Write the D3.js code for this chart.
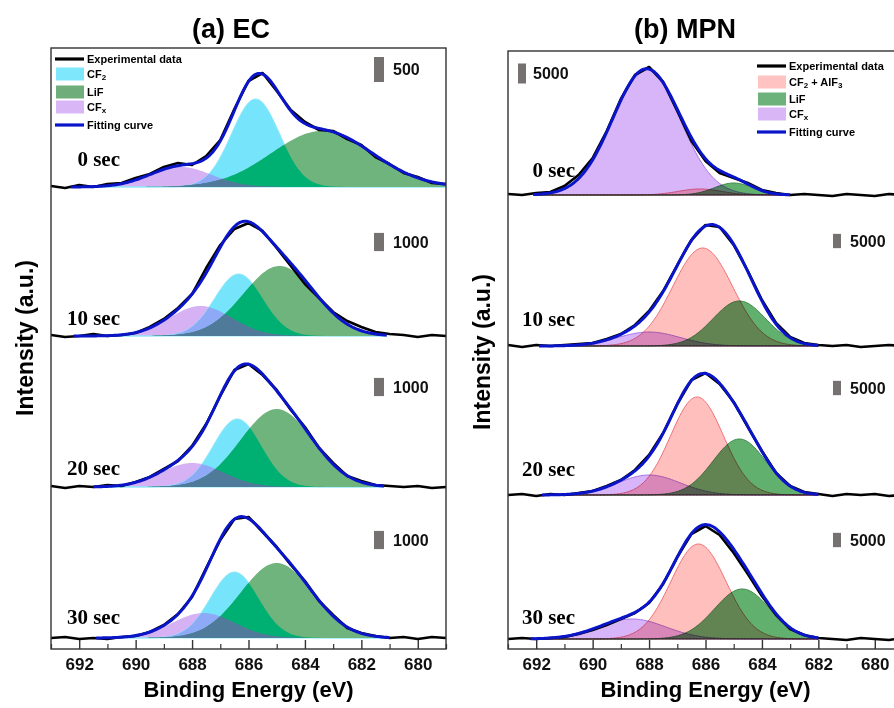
<!DOCTYPE html>
<html lang="en">
<head>
<meta charset="UTF-8">
<title>F 1s XPS depth profile</title>
<script src="https://cdn.jsdelivr.net/npm/d3@7"></script>
<style>
  body { margin: 0; background: #fff; }
  svg { display: block; font-family: "Liberation Sans", Arial, sans-serif; }
  .comp { mix-blend-mode: multiply; }
</style>
</head>
<body>
<svg id="chart" width="894" height="708"></svg>
<script>
// ---- data ----
// binding energy of the measured points (eV)
const energies = [693, 692.5, 692, 691.5, 691, 690.5, 690, 689.5, 689, 688.5, 688, 687.5, 687, 686.5,
  686, 685.5, 685, 684.5, 684, 683.5, 683, 682.5, 682, 681.5, 681, 680.5, 680, 679.5, 679];
const energyTicks = [692, 690, 688, 686, 684, 682, 680];
const energyMinor = [693, 691, 689, 687, 685, 683, 681, 679];
const timeLabels = ["0 sec", "10 sec", "20 sec", "30 sec"];

// (a) EC : experimental counts (background removed)
const ecExp0 = [20, -20, 40, 0, 60, 80, 180, 260, 400, 480, 440, 620, 940, 1560, 2120, 2280, 1920, 1540, 1300, 1140, 1120, 960, 840, 600, 460, 280, 200, 80, 60];
const ecExp10 = [55, -55, 0, 110, 0, 55, 165, 495, 935, 1540, 2310, 3740, 5005, 5885, 6215, 5775, 4840, 3850, 2860, 2090, 1320, 825, 495, 220, 110, 55, -55, 55, 0];
const ecExp20 = [55, -55, 55, 0, 110, 55, 275, 550, 990, 1430, 2255, 3465, 5005, 6435, 6765, 6160, 5335, 4235, 3300, 2145, 1320, 605, 330, 110, 55, 0, 55, -55, 0];
const ecExp30 = [0, 55, -55, 0, -55, 55, 110, 330, 715, 1320, 2255, 3850, 5390, 6545, 6655, 5830, 5005, 4015, 3135, 2035, 1265, 550, 275, 110, 0, 55, -55, 55, 0];
// fitted peaks [center eV, height, fwhm eV] for 0/10/20/30 sec
const ecCF2 = [[685.75, 1760, 2.0], [686.35, 3410, 2.0], [686.4, 3740, 2.0], [686.5, 3630, 2.0]];
const ecLiF = [[683.4, 1120, 4.2], [684.9, 3850, 3.0], [685.0, 4290, 3.0], [685.0, 4125, 3.0]];
const ecCFx = [[688.4, 400, 2.6], [687.7, 1650, 2.6], [688.0, 1320, 2.6], [687.6, 1375, 2.6]];
const ecFitRange = [[692.3, 679], [692.2, 681.1], [691.5, 681.2], [691.4, 681]];
const ecScaleBar = [500, 1000, 1000, 1000];

// (b) MPN
const mpnExp0 = [250, 0, 500, 750, 2250, 5000, 9250, 16000, 24000, 30000, 32000, 28250, 21000, 13500, 8500, 5500, 4250, 3000, 1250, 500, 0, 250, 0, -250, 250, 0, -250, 250, 0];
const mpnExp10 = [350, -350, 350, 0, 350, 700, 1050, 2450, 4200, 7350, 12250, 19250, 28350, 37100, 42350, 41650, 35350, 26250, 16100, 8050, 3150, 1050, 350, 0, 350, -350, 0, 350, 0];
const mpnExp20 = [0, 350, -350, 350, 0, 700, 1400, 3150, 5250, 8750, 14000, 21700, 31850, 40250, 42700, 38850, 32550, 23800, 15400, 7700, 3150, 1050, 350, -350, 350, 0, 350, -350, 0];
const mpnExp30 = [0, 350, 0, 350, 700, 1750, 3150, 4900, 7000, 9100, 12600, 19250, 28700, 36750, 39550, 36400, 30100, 22750, 15050, 8400, 3500, 1400, 350, 0, -350, 350, 0, -350, 350];
const mpnCF2 = [[686.2, 1500, 1.8], [686.1, 34300, 2.5], [686.3, 34300, 2.2], [686.25, 33250, 2.3]];
const mpnLiF = [[685.0, 3000, 1.6], [684.8, 15750, 2.2], [684.8, 19600, 2.2], [684.7, 17500, 2.3]];
const mpnCFx = [[688.1, 31500, 2.8], [688.0, 4900, 2.6], [688.0, 7000, 2.6], [688.6, 7000, 2.8]];
const mpnFitRange = [[692.1, 683], [691.9, 682], [691.8, 682], [692.2, 682]];
const mpnScaleBar = [5000, 5000, 5000, 5000];

// ---- layout ----
const svg = d3.select("#chart");
const gauss = (p) => (E) => p[1] * Math.exp(-4 * Math.LN2 * ((E - p[0]) / p[2]) ** 2);

const panels = [
  {
    title: "(a) EC", titleX: 231, left: 51, right: 446, top: 48, bottom: 649,
    exp: [ecExp0, ecExp10, ecExp20, ecExp30],
    comps: [ecCFx, ecCF2, ecLiF],
    fills: ["#d6b2f4", "#76e5fb", "#6fb47d"],
    strokes: ["none", "#8fe8fb", "none"],
    // overlap colours: CFx&CF2, CF2&LiF, CFx&LiF, all three
    overlaps: [[[0, 1], "#8eaaf6"], [[1, 2], "#00b073"], [[0, 2], "#567f98"], [[0, 1, 2], "#4f7a99"]],
    fit: ecFitRange, bars: ecScaleBar,
    base: [187, 336, 487, 638], cpp: [20, 55, 55, 55],
    labelX: 120, labelY: [166, 325, 475, 624],
    barXRows: [374, 374, 374, 374], barW: 10, barY: [69.5, 242, 387, 540], barTextRows: [393, 393, 393, 393],
    legendX: 55,
    legend: [["line", "#000", "Experimental data"], ["rect", "#7fe7fb", "CF", "2"], ["rect", "#6fae7b", "LiF"],
      ["rect", "#d9b6f6", "CF", "x"], ["line", "#0a14c8", "Fitting curve"]],
    legendRows: [59, 74, 92, 107, 125]
  },
  {
    title: "(b) MPN", titleX: 685, left: 508, right: 903, top: 51, bottom: 649,
    exp: [mpnExp0, mpnExp10, mpnExp20, mpnExp30],
    comps: [mpnCFx, mpnCF2, mpnLiF],
    fills: ["#d8b4f8", "#ffbfbd", "#62b06e"],
    strokes: ["#a572e6", "#ef6f78", "#3e8a48"],
    overlaps: null,
    fit: mpnFitRange, bars: mpnScaleBar,
    base: [195, 346, 495, 639], cpp: [250, 350, 350, 350],
    labelX: 575, labelY: [177, 326, 476, 624],
    barXRows: [518, 833, 833, 833], barW: 8, barY: [73.5, 241, 388, 540], barTextRows: [533, 850, 850, 850],
    legendX: 757,
    legend: [["line", "#000", "Experimental data"], ["rect", "#ffc4c1", "CF", "2", " + AlF", "3"], ["rect", "#6cb27a", "LiF"],
      ["rect", "#d9b6f6", "CF", "x"], ["line", "#0a14c8", "Fitting curve"]],
    legendRows: [66, 82, 99, 114, 132]
  }
];

panels.forEach((p, pi) => {
  const g = svg.append("g");
  const x = d3.scaleLinear().domain([693, 679]).range([p.left, p.right]);

  const clipId = "clip" + pi;
  svg.append("clipPath").attr("id", clipId).append("rect")
    .attr("x", p.left).attr("y", p.top).attr("width", p.right - p.left).attr("height", p.bottom - p.top);
  const plot = g.append("g").attr("clip-path", `url(#${clipId})`);

  p.exp.forEach((exp, r) => {
    const y = d3.scaleLinear().domain([0, p.cpp[r] * 100]).range([p.base[r], p.base[r] - 100]);
    const [e0, e1] = p.fit[r];
    const grid = d3.range(e0, e1 - 0.001, -0.05).concat([e1]);
    const fs = p.comps.map(set => gauss(set[r]));

    // fitted components
    const cg = plot.append("g").style("isolation", "isolate");
    fs.forEach((f, ci) => {
      cg.append("path").attr("class", p.overlaps ? null : "comp")
        .datum(grid)
        .attr("d", d3.area().x(E => x(E)).y0(y(0)).y1(E => y(f(E))))
        .attr("fill", p.fills[ci])
        .attr("stroke", p.strokes[ci])
        .attr("stroke-width", 1);
    });
    if (p.overlaps) {
      p.overlaps.forEach(([idx, col]) => {
        cg.append("path").datum(grid)
          .attr("d", d3.area().x(E => x(E)).y0(y(0)).y1(E => y(d3.min(idx, i => fs[i](E)))))
          .attr("fill", col);
      });
    }

    // experimental data
    plot.append("path")
      .datum(exp)
      .attr("d", d3.line().x((v, i) => x(energies[i])).y(v => y(v)))
      .attr("fill", "none").attr("stroke", "#000").attr("stroke-width", 2.6)
      .attr("stroke-linejoin", "round");

    // fitting curve (sum of components)
    plot.append("path")
      .datum(grid)
      .attr("d", d3.line().x(E => x(E)).y(E => y(d3.sum(fs, f => f(E)))))
      .attr("fill", "none").attr("stroke", "#0a14c8").attr("stroke-width", 3)
      .attr("stroke-linejoin", "round");

    // time label
    g.append("text").attr("x", p.labelX).attr("y", p.labelY[r])
      .attr("text-anchor", "end")
      .style("font-family", '"Liberation Serif", "Times New Roman", serif')
      .style("font-weight", "bold").style("font-size", "21px")
      .text(timeLabels[r]);

    // scale bar
    const bh = y(0) - y(p.bars[r]);
    g.append("rect").attr("x", p.barXRows[r]).attr("y", p.barY[r] - bh / 2)
      .attr("width", p.barW).attr("height", bh).attr("fill", "#767171");
    g.append("text").attr("x", p.barTextRows[r]).attr("y", p.barY[r]).attr("dy", "0.36em")
      .style("font-weight", "bold").style("font-size", "16px").attr("fill", "#111")
      .text(p.bars[r]);
  });

  // frame
  g.append("rect").attr("x", p.left).attr("y", p.top)
    .attr("width", p.right - p.left).attr("height", p.bottom - p.top)
    .attr("fill", "none").attr("stroke", "#333").attr("stroke-width", 1.4);

  // bottom axis, ticks inward
  const ax = g.append("g").attr("transform", `translate(0,${p.bottom})`)
    .call(d3.axisBottom(x).tickValues(energyTicks).tickSize(-9).tickPadding(9).tickFormat(d3.format("d")));
  ax.select(".domain").remove();
  ax.selectAll("line").attr("stroke", "#333").attr("stroke-width", 1.4);
  ax.selectAll("text").style("font-size", "17px").style("font-weight", "bold")
    .style("font-family", '"Liberation Sans", Arial, sans-serif').attr("fill", "#111");
  const mx = g.append("g").attr("transform", `translate(0,${p.bottom})`)
    .call(d3.axisBottom(x).tickValues(energyMinor).tickSize(-5).tickFormat(""));
  mx.select(".domain").remove();
  mx.selectAll("line").attr("stroke", "#333").attr("stroke-width", 1.2);

  // titles
  g.append("text").attr("x", p.titleX).attr("y", 38).attr("text-anchor", "middle")
    .style("font-weight", "bold").style("font-size", "27px").text(p.title);
  g.append("text").attr("x", (p.left + (pi ? 903 : p.right)) / 2).attr("y", 697).attr("text-anchor", "middle")
    .style("font-weight", "bold").style("font-size", "22px").text("Binding Energy (eV)");
  g.append("text").attr("transform", `translate(${p.left - 18},${pi ? 352 : 338}) rotate(-90)`)
    .attr("text-anchor", "middle")
    .style("font-weight", "bold").style("font-size", "23px").text("Intensity (a.u.)");

  // legend
  const lg = g.append("g");
  p.legend.forEach((item, k) => {
    const ly = p.legendRows[k];
    if (item[0] === "line") {
      lg.append("line").attr("x1", p.legendX).attr("x2", p.legendX + 29).attr("y1", ly).attr("y2", ly)
        .attr("stroke", item[1]).attr("stroke-width", 3.2);
    } else {
      lg.append("rect").attr("x", p.legendX + 1).attr("y", ly - 6.5).attr("width", 28).attr("height", 13)
        .attr("fill", item[1]);
    }
    const t = lg.append("text").attr("x", p.legendX + 32).attr("y", ly).attr("dy", "0.35em")
      .style("font-weight", "bold").style("font-size", "11px");
    t.append("tspan").text(item[2]);
    for (let s = 3; s < item.length; s += 1) {
      const sub = (s % 2 === 1);
      t.append("tspan").attr("baseline-shift", sub ? "-30%" : "0%")
        .style("font-size", sub ? "8px" : "11px").text(item[s]);
    }
  });
});
</script>
</body>
</html>
